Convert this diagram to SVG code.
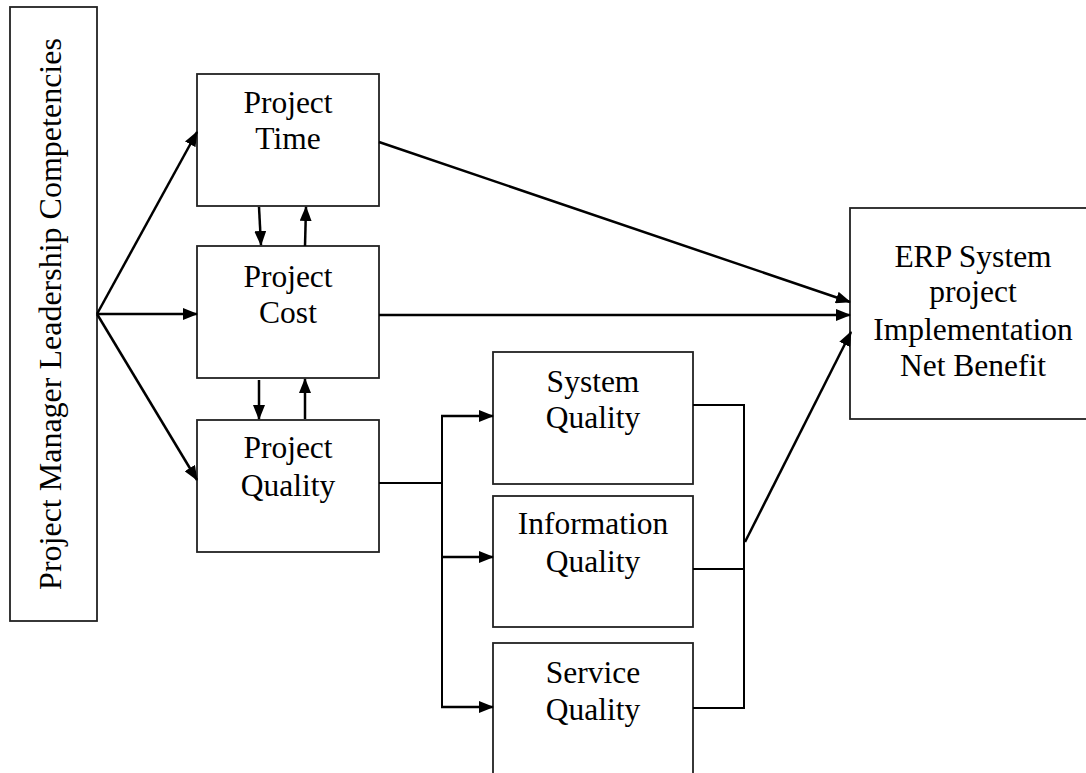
<svg xmlns="http://www.w3.org/2000/svg" width="1086" height="773" viewBox="0 0 1086 773">
<defs>
<marker id="ah" markerUnits="userSpaceOnUse" markerWidth="15" markerHeight="12" refX="14" refY="6" orient="auto">
<path d="M0,0 L15,6 L0,12 Z" fill="#000"/>
</marker>
<style>
.box{fill:#fff;stroke:#222;stroke-width:1.8}
.lbl{font-family:"Liberation Serif","Times New Roman",serif;font-size:31.5px;fill:#000;text-anchor:middle}
.arr{fill:none;stroke:#000;stroke-width:2.5;marker-end:url(#ah)}
.ln{fill:none;stroke:#000;stroke-width:2}
</style>
</defs>
<rect width="1086" height="773" fill="#fff"/>
<g id="leader">
<rect class="box" x="10" y="7" width="87" height="614" stroke-width="1.3"/>
<text class="lbl" style="font-size:32px" transform="translate(61,314) rotate(-90)">Project Manager Leadership Competencies</text>
</g>
<g id="time">
<rect class="box" x="197" y="74" width="182" height="132"/>
<text class="lbl" x="288" y="113">Project</text>
<text class="lbl" x="288" y="149">Time</text>
</g>
<g id="cost">
<rect class="box" x="197" y="246" width="182" height="132"/>
<text class="lbl" x="288" y="287">Project</text>
<text class="lbl" x="288" y="323">Cost</text>
</g>
<g id="quality">
<rect class="box" x="197" y="420" width="182" height="132"/>
<text class="lbl" x="288" y="458">Project</text>
<text class="lbl" x="288" y="496">Quality</text>
</g>
<g id="system">
<rect class="box" x="493" y="352" width="200" height="132"/>
<text class="lbl" x="593" y="392">System</text>
<text class="lbl" x="593" y="428">Quality</text>
</g>
<g id="information">
<rect class="box" x="493" y="496" width="200" height="131"/>
<text class="lbl" x="593" y="534">Information</text>
<text class="lbl" x="593" y="572">Quality</text>
</g>
<g id="service">
<rect class="box" x="493" y="643" width="200" height="140"/>
<text class="lbl" x="593" y="683">Service</text>
<text class="lbl" x="593" y="720">Quality</text>
</g>
<g id="erp">
<rect class="box" x="850" y="208" width="250" height="211"/>
<text class="lbl" x="973" y="267">ERP System</text>
<text class="lbl" x="973" y="302">project</text>
<text class="lbl" x="973" y="340">Implementation</text>
<text class="lbl" x="973" y="376">Net Benefit</text>
</g>
<g id="connectors">
<line class="arr" x1="97" y1="314" x2="197" y2="132"/>
<line class="arr" x1="97" y1="314" x2="197" y2="314"/>
<line class="arr" x1="97" y1="314" x2="197" y2="480"/>
<line class="arr" x1="259" y1="207" x2="261" y2="245"/>
<line class="arr" x1="305" y1="246" x2="306" y2="207"/>
<line class="arr" x1="259" y1="380" x2="259" y2="419"/>
<line class="arr" x1="305" y1="419" x2="305" y2="379"/>
<line class="arr" x1="379" y1="142" x2="850" y2="302"/>
<line class="arr" x1="379" y1="315" x2="850" y2="315"/>
<polyline class="ln" points="379,483 442,483"/>
<polyline class="ln" points="442,416 442,707"/>
<line class="arr" x1="441" y1="416" x2="493" y2="416"/>
<line class="arr" x1="441" y1="557" x2="493" y2="557"/>
<line class="arr" x1="441" y1="707" x2="493" y2="707"/>
<polyline class="ln" points="693,405 744,405 744,708 693,708"/>
<polyline class="ln" points="693,569 744,569"/>
<line class="arr" x1="745" y1="542" x2="851" y2="332"/>
</g>
</svg>
